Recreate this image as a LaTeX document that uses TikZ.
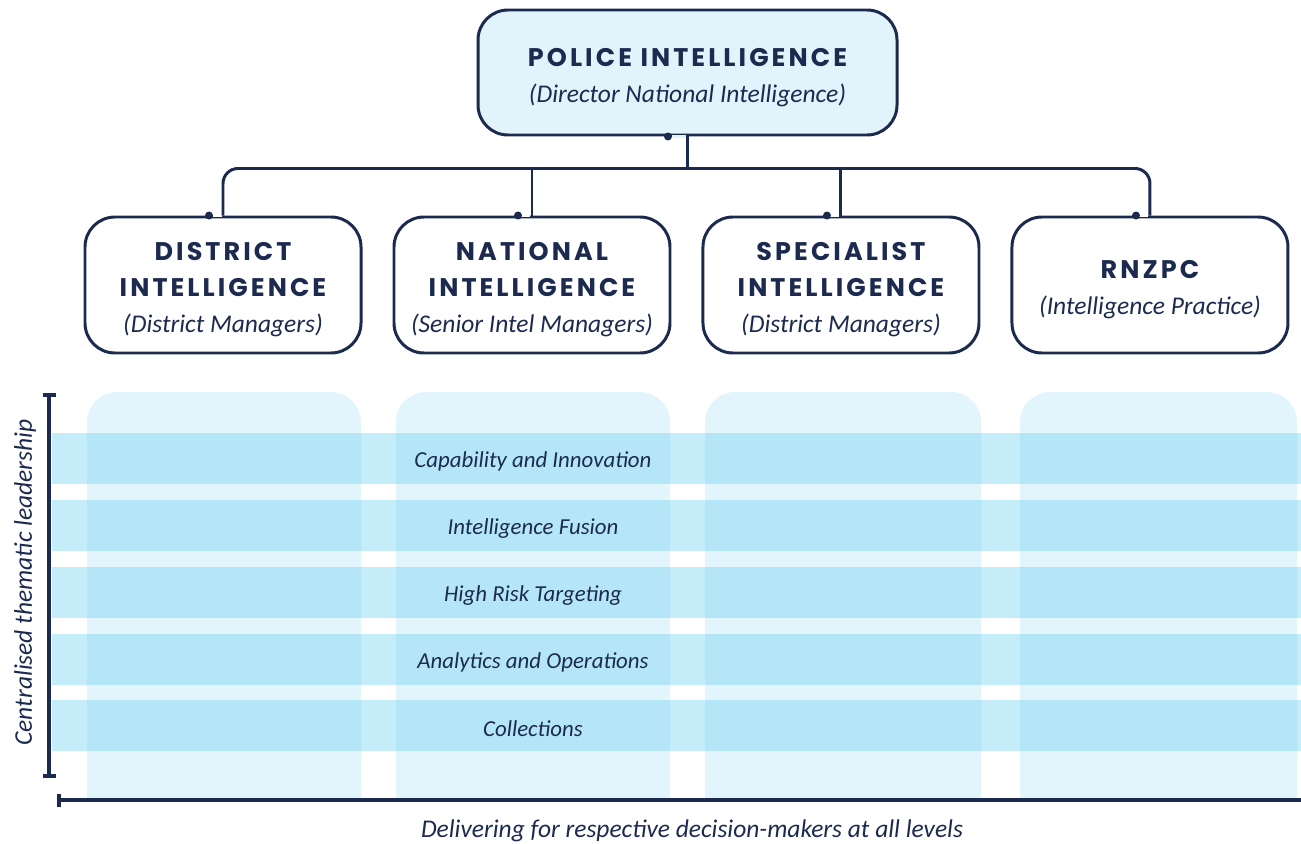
\documentclass[tikz,border=0pt]{standalone}
\usepackage{fontspec}
\setmainfont{Carlito}
\newfontfamily\headfont{Poppins}[LetterSpace=12]
\usetikzlibrary{positioning,arrows.meta}
\definecolor{navy}{HTML}{1B2A4E}
\definecolor{topfill}{HTML}{E1F4FB}
\definecolor{colfill}{HTML}{E3F5FC}
\definecolor{bandfill}{RGB}{121,212,242}
\newcommand\padtop{\rule{0pt}{16pt}}

\begin{document}
\begin{tikzpicture}[
  orgbox/.style={draw=navy, line width=1.7pt, rounded corners=0.6cm, fill=white,
    minimum width=5.52cm, minimum height=2.72cm, align=center, text=navy,
    font=\fontsize{14.5}{20.5}\selectfont},
  conn/.style={draw=navy, line width=1.7pt},
  gapline/.style={line width=2pt},
  band/.style={fill=bandfill, fill opacity=0.43},
  bandlabel/.style={text=navy, font=\fontsize{13}{15}\selectfont\itshape, yshift=-0.06cm},
  axis/.style={draw=navy, line width=2.2pt},
  axislabel/.style={text=navy, font=\fontsize{14.5}{17}\selectfont\itshape},
  node distance=0.60cm
]
\useasboundingbox (0,0) rectangle (26.02,-16.86);

% columns and bands:
\foreach \a/\b in {1.74/7.22, 7.92/13.40, 14.10/19.62, 20.40/25.94}
  \fill[colfill] (\a,-15.96) [rounded corners=0.6cm] -- (\a,-7.84) -- (\b,-7.84)
    [sharp corners] -- (\b,-15.96) -- cycle;

\foreach \y/\t [count=\i] in {9.17/Capability and Innovation, 10.51/Intelligence Fusion,
    11.85/High Risk Targeting, 13.19/Analytics and Operations, 14.51/Collections}
{
  \fill[band] (1.04,-\y+0.51) rectangle (26.02,-\y-0.51);
  \node[bandlabel] (band\i) at (10.66,-\y) {\t};
}

% axes:
\draw[axis, {Bar[width=0.26cm]}-{Bar[width=0.26cm]}] (0.98,-7.86) coordinate(ytop) -- (0.98,-15.56) coordinate(ybot);
\draw[axis, {Bar[width=0.26cm]}-] (1.14,-16.0) coordinate(xleft) -- (26.02,-16.0) coordinate(xright);
\node[axislabel, rotate=90] (leaderlabel) at (0.5,-11.65) {Centralised thematic leadership};
\node[axislabel] (deliverlabel) at (13.84,-16.62) {Delivering for respective decision-makers at all levels};

% top tier:
\node[orgbox, fill=topfill, minimum width=8.38cm, minimum height=2.5cm] (police) at (13.75,-1.45)
  {\padtop{\headfont\bfseries POLICE INTELLIGENCE}\\{\itshape (Director National Intelligence)}};

% 2nd tier:
\node[orgbox] (district) at (4.46,-5.70)
  {\padtop{\headfont\bfseries DISTRICT}\\{\headfont\bfseries INTELLIGENCE}\\{\itshape (District Managers)}};
\node[orgbox, right=of district] (national)
  {\padtop{\headfont\bfseries NATIONAL}\\{\headfont\bfseries INTELLIGENCE}\\{\itshape (Senior Intel Managers)}};
\node[orgbox, right=of national] (specialist)
  {\padtop{\headfont\bfseries SPECIALIST}\\{\headfont\bfseries INTELLIGENCE}\\{\itshape (District Managers)}};
\node[orgbox, right=of specialist] (rnzpc)
  {\padtop{\headfont\bfseries RNZPC}\\{\itshape (Intelligence Practice)}};

% gaps in the borders:
\draw[gapline, topfill] ([xshift=-0.32cm]police.south) -- ([xshift=-0.03cm]police.south);
\foreach \n in {district,national,specialist,rnzpc}
  \draw[gapline, white] ([xshift=-0.21cm]\n.north) -- ([xshift=-0.03cm]\n.north);

% connectors:
\coordinate (bus) at ([yshift=-0.64cm]police.south);
\draw[conn] (police.south) -- (bus);
\draw[conn, rounded corners=0.3cm] (district.north) -- (district.north |- bus)
  -- (rnzpc.north |- bus) -- (rnzpc.north);
\draw[conn] (national.north) -- (national.north |- bus);
\draw[conn] (specialist.north) -- (specialist.north |- bus);

% dots:
\fill[navy] ([xshift=-0.39cm]police.south) circle (0.08cm);
\foreach \n in {district,national,specialist,rnzpc}
  \fill[navy] ([xshift=-0.28cm]\n.north) circle (0.08cm);

\end{tikzpicture}
\end{document}
